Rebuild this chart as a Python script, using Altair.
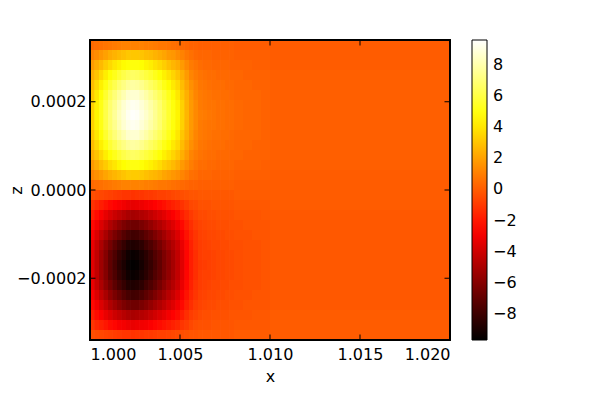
import altair as alt
import pandas as pd

# ---- data ----
x_edges = [1.0000, 1.00025, 1.0005, 1.00075, 1.0010, 1.00125, 1.0015, 1.00175, 1.0020,
           1.00225, 1.0025, 1.00275, 1.0030, 1.00325, 1.0035, 1.00375, 1.0040, 1.00425,
           1.0045, 1.00475, 1.0050, 1.00525, 1.0055, 1.00575, 1.0060, 1.00625, 1.0065,
           1.00675, 1.0070, 1.00725, 1.0075, 1.00775, 1.0080, 1.0085, 1.0090, 1.0095,
           1.0100, 1.0200]
z_edges = [0.00034, 0.0003173, 0.0002947, 0.000272, 0.0002493, 0.0002267, 0.000204,
           0.0001813, 0.0001587, 0.000136, 0.0001133, 0.0000907, 0.000068, 0.0000453,
           0.0000227, 0.0, -0.0000227, -0.0000453, -0.000068, -0.0000907, -0.0001133,
           -0.000136, -0.0001587, -0.0001813, -0.000204, -0.0002267, -0.0002493,
           -0.000272, -0.0002947, -0.0003173, -0.00034]

# field values, rows from the top edge (z = +0.00034) downwards, columns from x = 1.000 rightwards
values = [
    [0.4, 0.5, 0.6, 0.7, 0.8, 0.9, 1.0, 1.1, 1.1, 1.1, 1.1, 1.1, 1.0, 1.0, 0.9, 0.8, 0.8, 0.7, 0.6, 0.5, 0.4, 0.3, 0.2, 0.2, 0.1, 0.1, 0.1, 0.1, 0.1, 0.1, 0.1, 0.1, 0.0, 0.0, 0.0, 0.0, 0.0],
    [1.1, 1.4, 1.7, 2.0, 2.3, 2.5, 2.7, 2.9, 3.1, 3.1, 3.1, 3.0, 2.8, 2.7, 2.5, 2.3, 2.1, 1.8, 1.7, 1.4, 1.1, 0.8, 0.6, 0.4, 0.3, 0.3, 0.3, 0.2, 0.2, 0.2, 0.2, 0.2, 0.1, 0.1, 0.1, 0.1, 0.0],
    [1.8, 2.3, 2.7, 3.2, 3.6, 4.0, 4.3, 4.6, 4.8, 4.9, 4.9, 4.7, 4.4, 4.2, 3.9, 3.6, 3.3, 2.9, 2.6, 2.3, 1.8, 1.3, 0.9, 0.7, 0.5, 0.4, 0.4, 0.3, 0.3, 0.3, 0.3, 0.2, 0.2, 0.2, 0.1, 0.1, 0.0],
    [2.4, 3.0, 3.6, 4.2, 4.8, 5.2, 5.7, 6.1, 6.4, 6.6, 6.5, 6.2, 5.9, 5.6, 5.2, 4.8, 4.3, 3.9, 3.5, 3.0, 2.4, 1.8, 1.2, 0.9, 0.7, 0.6, 0.5, 0.5, 0.4, 0.4, 0.4, 0.3, 0.3, 0.2, 0.2, 0.2, 0.1],
    [2.8, 3.6, 4.3, 5.0, 5.7, 6.2, 6.8, 7.2, 7.6, 7.8, 7.7, 7.4, 7.0, 6.6, 6.2, 5.7, 5.1, 4.6, 4.1, 3.6, 2.8, 2.1, 1.5, 1.1, 0.8, 0.7, 0.6, 0.5, 0.5, 0.5, 0.4, 0.4, 0.3, 0.3, 0.2, 0.2, 0.1],
    [3.1, 4.0, 4.8, 5.6, 6.4, 7.0, 7.6, 8.1, 8.6, 8.7, 8.7, 8.3, 7.9, 7.4, 6.9, 6.4, 5.8, 5.2, 4.6, 4.0, 3.1, 2.4, 1.7, 1.2, 0.9, 0.8, 0.7, 0.6, 0.6, 0.5, 0.5, 0.4, 0.3, 0.3, 0.3, 0.2, 0.1],
    [3.4, 4.3, 5.1, 6.0, 6.8, 7.4, 8.1, 8.7, 9.1, 9.3, 9.2, 8.8, 8.4, 7.9, 7.4, 6.8, 6.1, 5.5, 4.9, 4.3, 3.4, 2.5, 1.8, 1.3, 0.9, 0.8, 0.7, 0.7, 0.6, 0.6, 0.5, 0.5, 0.4, 0.3, 0.3, 0.2, 0.1],
    [3.4, 4.4, 5.2, 6.1, 6.9, 7.6, 8.3, 8.8, 9.3, 9.5, 9.4, 9.0, 8.6, 8.1, 7.5, 6.9, 6.3, 5.6, 5.0, 4.4, 3.4, 2.6, 1.8, 1.3, 1.0, 0.9, 0.8, 0.7, 0.6, 0.6, 0.5, 0.5, 0.4, 0.3, 0.3, 0.2, 0.1],
    [3.4, 4.3, 5.1, 6.0, 6.8, 7.4, 8.1, 8.7, 9.1, 9.3, 9.2, 8.8, 8.4, 7.9, 7.4, 6.8, 6.1, 5.5, 4.9, 4.3, 3.4, 2.5, 1.8, 1.3, 0.9, 0.8, 0.7, 0.7, 0.6, 0.6, 0.5, 0.5, 0.4, 0.3, 0.3, 0.2, 0.1],
    [3.1, 4.0, 4.8, 5.6, 6.4, 7.0, 7.6, 8.1, 8.6, 8.7, 8.7, 8.3, 7.9, 7.4, 6.9, 6.4, 5.8, 5.2, 4.6, 4.0, 3.1, 2.4, 1.7, 1.2, 0.9, 0.8, 0.7, 0.6, 0.6, 0.5, 0.5, 0.4, 0.3, 0.3, 0.3, 0.2, 0.1],
    [2.8, 3.6, 4.3, 5.0, 5.7, 6.2, 6.8, 7.2, 7.6, 7.8, 7.7, 7.4, 7.0, 6.6, 6.2, 5.7, 5.1, 4.6, 4.1, 3.6, 2.8, 2.1, 1.5, 1.1, 0.8, 0.7, 0.6, 0.5, 0.5, 0.5, 0.4, 0.4, 0.3, 0.3, 0.2, 0.2, 0.1],
    [2.4, 3.0, 3.6, 4.2, 4.8, 5.2, 5.7, 6.1, 6.4, 6.6, 6.5, 6.2, 5.9, 5.6, 5.2, 4.8, 4.3, 3.9, 3.5, 3.0, 2.4, 1.8, 1.2, 0.9, 0.7, 0.6, 0.5, 0.5, 0.4, 0.4, 0.4, 0.3, 0.3, 0.2, 0.2, 0.2, 0.1],
    [1.8, 2.3, 2.8, 3.2, 3.7, 4.0, 4.4, 4.7, 4.9, 5.0, 5.0, 4.8, 4.5, 4.3, 4.0, 3.7, 3.3, 3.0, 2.7, 2.3, 1.8, 1.4, 1.0, 0.7, 0.5, 0.5, 0.4, 0.4, 0.3, 0.3, 0.3, 0.3, 0.2, 0.2, 0.2, 0.1, 0.1],
    [1.2, 1.5, 1.8, 2.1, 2.4, 2.6, 2.8, 3.0, 3.2, 3.2, 3.2, 3.1, 2.9, 2.7, 2.6, 2.4, 2.1, 1.9, 1.7, 1.5, 1.2, 0.9, 0.6, 0.5, 0.3, 0.3, 0.3, 0.2, 0.2, 0.2, 0.2, 0.2, 0.1, 0.1, 0.1, 0.1, 0.0],
    [0.4, 0.5, 0.6, 0.7, 0.8, 0.9, 1.0, 1.1, 1.1, 1.1, 1.1, 1.1, 1.0, 1.0, 0.9, 0.8, 0.8, 0.7, 0.6, 0.5, 0.4, 0.3, 0.2, 0.2, 0.1, 0.1, 0.1, 0.1, 0.1, 0.1, 0.1, 0.1, 0.0, 0.0, 0.0, 0.0, 0.0],
    [-0.4, -0.5, -0.6, -0.7, -0.8, -0.9, -1.0, -1.1, -1.1, -1.2, -1.1, -1.1, -1.0, -1.0, -0.9, -0.8, -0.8, -0.7, -0.6, -0.5, -0.4, -0.3, -0.2, -0.2, -0.1, -0.1, -0.1, -0.1, -0.1, -0.1, -0.1, -0.1, 0.0, 0.0, 0.0, 0.0, 0.0],
    [-1.2, -1.5, -1.8, -2.1, -2.4, -2.6, -2.8, -3.0, -3.2, -3.3, -3.2, -3.1, -2.9, -2.8, -2.6, -2.4, -2.2, -1.9, -1.7, -1.5, -1.2, -0.9, -0.6, -0.5, -0.3, -0.3, -0.3, -0.2, -0.2, -0.2, -0.2, -0.2, -0.1, -0.1, -0.1, -0.1, 0.0],
    [-1.8, -2.3, -2.8, -3.3, -3.7, -4.1, -4.4, -4.7, -5.0, -5.1, -5.0, -4.8, -4.6, -4.3, -4.0, -3.7, -3.4, -3.0, -2.7, -2.3, -1.8, -1.4, -1.0, -0.7, -0.5, -0.5, -0.4, -0.4, -0.3, -0.3, -0.3, -0.3, -0.2, -0.2, -0.2, -0.1, -0.1],
    [-2.4, -3.0, -3.6, -4.2, -4.8, -5.3, -5.8, -6.2, -6.5, -6.6, -6.6, -6.3, -6.0, -5.6, -5.2, -4.8, -4.4, -3.9, -3.5, -3.0, -2.4, -1.8, -1.3, -0.9, -0.7, -0.6, -0.5, -0.5, -0.4, -0.4, -0.4, -0.3, -0.3, -0.2, -0.2, -0.2, -0.1],
    [-2.8, -3.6, -4.3, -5.0, -5.7, -6.3, -6.8, -7.3, -7.7, -7.9, -7.8, -7.5, -7.1, -6.7, -6.2, -5.7, -5.2, -4.6, -4.2, -3.6, -2.8, -2.1, -1.5, -1.1, -0.8, -0.7, -0.6, -0.6, -0.5, -0.5, -0.4, -0.4, -0.3, -0.3, -0.2, -0.2, -0.1],
    [-3.2, -4.1, -4.9, -5.7, -6.4, -7.1, -7.7, -8.2, -8.7, -8.8, -8.7, -8.4, -7.9, -7.5, -7.0, -6.4, -5.8, -5.2, -4.7, -4.1, -3.2, -2.4, -1.7, -1.2, -0.9, -0.8, -0.7, -0.6, -0.6, -0.5, -0.5, -0.4, -0.4, -0.3, -0.3, -0.2, -0.1],
    [-3.4, -4.3, -5.2, -6.0, -6.9, -7.5, -8.2, -8.7, -9.2, -9.4, -9.3, -8.9, -8.5, -8.0, -7.4, -6.9, -6.2, -5.6, -5.0, -4.3, -3.4, -2.5, -1.8, -1.3, -0.9, -0.8, -0.8, -0.7, -0.6, -0.6, -0.5, -0.5, -0.4, -0.3, -0.3, -0.2, -0.1],
    [-3.5, -4.4, -5.3, -6.1, -7.0, -7.7, -8.4, -8.9, -9.4, -9.6, -9.5, -9.1, -8.6, -8.2, -7.6, -7.0, -6.3, -5.7, -5.1, -4.4, -3.5, -2.6, -1.8, -1.3, -1.0, -0.9, -0.8, -0.7, -0.6, -0.6, -0.5, -0.5, -0.4, -0.3, -0.3, -0.2, -0.1],
    [-3.4, -4.3, -5.2, -6.0, -6.9, -7.5, -8.2, -8.7, -9.2, -9.4, -9.3, -8.9, -8.5, -8.0, -7.4, -6.9, -6.2, -5.6, -5.0, -4.3, -3.4, -2.5, -1.8, -1.3, -0.9, -0.8, -0.8, -0.7, -0.6, -0.6, -0.5, -0.5, -0.4, -0.3, -0.3, -0.2, -0.1],
    [-3.2, -4.1, -4.9, -5.7, -6.4, -7.1, -7.7, -8.2, -8.7, -8.8, -8.7, -8.4, -7.9, -7.5, -7.0, -6.4, -5.8, -5.2, -4.7, -4.1, -3.2, -2.4, -1.7, -1.2, -0.9, -0.8, -0.7, -0.6, -0.6, -0.5, -0.5, -0.4, -0.4, -0.3, -0.3, -0.2, -0.1],
    [-2.8, -3.6, -4.3, -5.0, -5.7, -6.3, -6.8, -7.3, -7.7, -7.9, -7.8, -7.5, -7.1, -6.7, -6.2, -5.7, -5.2, -4.6, -4.2, -3.6, -2.8, -2.1, -1.5, -1.1, -0.8, -0.7, -0.6, -0.6, -0.5, -0.5, -0.4, -0.4, -0.3, -0.3, -0.2, -0.2, -0.1],
    [-2.4, -3.0, -3.6, -4.2, -4.8, -5.3, -5.8, -6.2, -6.5, -6.6, -6.6, -6.3, -6.0, -5.6, -5.2, -4.8, -4.4, -3.9, -3.5, -3.0, -2.4, -1.8, -1.3, -0.9, -0.7, -0.6, -0.5, -0.5, -0.4, -0.4, -0.4, -0.3, -0.3, -0.2, -0.2, -0.2, -0.1],
    [-1.8, -2.3, -2.7, -3.2, -3.6, -4.0, -4.3, -4.6, -4.9, -5.0, -4.9, -4.7, -4.5, -4.2, -3.9, -3.6, -3.3, -2.9, -2.6, -2.3, -1.8, -1.3, -0.9, -0.7, -0.5, -0.4, -0.4, -0.3, -0.3, -0.3, -0.3, -0.2, -0.2, -0.2, -0.1, -0.1, 0.0],
    [-1.1, -1.5, -1.7, -2.0, -2.3, -2.5, -2.8, -2.9, -3.1, -3.2, -3.1, -3.0, -2.9, -2.7, -2.5, -2.3, -2.1, -1.9, -1.7, -1.5, -1.1, -0.9, -0.6, -0.4, -0.3, -0.3, -0.3, -0.2, -0.2, -0.2, -0.2, -0.2, -0.1, -0.1, -0.1, -0.1, 0.0],
    [-0.4, -0.5, -0.6, -0.7, -0.8, -0.9, -1.0, -1.1, -1.1, -1.2, -1.1, -1.1, -1.0, -1.0, -0.9, -0.8, -0.8, -0.7, -0.6, -0.5, -0.4, -0.3, -0.2, -0.2, -0.1, -0.1, -0.1, -0.1, -0.1, -0.1, -0.1, -0.1, 0.0, 0.0, 0.0, 0.0, 0.0],
]

x_ticks = [1.000, 1.005, 1.010, 1.015, 1.020]
z_ticks = [-0.0002, 0.0, 0.0002]
cbar_ticks = [-8, -6, -4, -2, 0, 2, 4, 6, 8]
x_domain = [1.000, 1.020]
z_domain = [-0.00034, 0.00034]
c_min, c_max = -9.65, 9.58

# ---- build table ----
rows = []
for i in range(len(z_edges) - 1):
    for j in range(len(x_edges) - 1):
        rows.append({"x": x_edges[j], "x_end": x_edges[j + 1],
                     "z": z_edges[i + 1], "z_end": z_edges[i],
                     "v": values[i][j]})
df = pd.DataFrame(rows)
xt = pd.DataFrame({"x": x_ticks})
zt = pd.DataFrame({"z": z_ticks})

FONT = "DejaVu Sans"
W, H = 360, 300
TL = 5.5  # inward tick length

# matplotlib "hot" colormap breakpoints
span = c_max - c_min
hot_domain = [c_min, c_min + 0.365079 * span, c_min + 0.746032 * span, c_max]
hot_range = ["#000000", "#ff0000", "#ffff00", "#ffffff"]
hot_scale = alt.Scale(domain=hot_domain, range=hot_range, interpolate="rgb")

x_scale = alt.Scale(domain=x_domain, nice=False, zero=False)
z_scale = alt.Scale(domain=z_domain, nice=False, zero=False)
x_axis = alt.Axis(values=x_ticks, format=".3f", ticks=False, domain=False, grid=False,
                  labelPadding=6, labelFontSize=16, labelFont=FONT, labelColor="black",
                  title="x", titleFontSize=16, titleFont=FONT, titleFontWeight="normal",
                  titleColor="black", titleY=41, titleBaseline="alphabetic")
z_axis = alt.Axis(values=z_ticks, format=".4f", ticks=False, domain=False, grid=False,
                  labelPadding=4, labelFontSize=16, labelFont=FONT, labelColor="black",
                  title="z", titleFontSize=16, titleFont=FONT, titleFontWeight="normal",
                  titleColor="black", titleX=-66, titleY=150, titleAngle=270,
                  titleBaseline="bottom", titleAlign="center")

cbar_legend = alt.Legend(
    title=None, orient="none", legendX=382, legendY=0, direction="vertical",
    gradientLength=H, gradientThickness=15, gradientStrokeColor="black",
    gradientStrokeWidth=1, values=cbar_ticks, format="d",
    labelFontSize=16, labelFont=FONT, labelColor="black", labelOffset=6,
    labelOverlap=False, padding=0,
)

heat = alt.Chart(df).mark_rect(strokeWidth=0).encode(
    x=alt.X("x:Q", scale=x_scale, axis=x_axis),
    x2="x_end:Q",
    y=alt.Y("z:Q", scale=z_scale, axis=z_axis),
    y2="z_end:Q",
    color=alt.Color("v:Q", scale=hot_scale, legend=cbar_legend),
)

xtick_bottom = alt.Chart(xt).mark_rule(color="black", strokeWidth=1).encode(
    x=alt.X("x:Q", scale=x_scale, axis=x_axis), y=alt.value(H), y2=alt.value(H - TL))
xtick_top = alt.Chart(xt).mark_rule(color="black", strokeWidth=1).encode(
    x=alt.X("x:Q", scale=x_scale, axis=x_axis), y=alt.value(0), y2=alt.value(TL))
ztick_left = alt.Chart(zt).mark_rule(color="black", strokeWidth=1).encode(
    y=alt.Y("z:Q", scale=z_scale, axis=z_axis), x=alt.value(0), x2=alt.value(TL))
ztick_right = alt.Chart(zt).mark_rule(color="black", strokeWidth=1).encode(
    y=alt.Y("z:Q", scale=z_scale, axis=z_axis), x=alt.value(W), x2=alt.value(W - TL))
frame = alt.Chart(xt).mark_rect(filled=False, stroke="black", strokeWidth=1.3).encode(
    x=alt.value(0), x2=alt.value(W), y=alt.value(0), y2=alt.value(H))

# the heat layer is painted three times so that anti-aliased seams between cells close up
chart = alt.layer(heat, heat, heat, xtick_bottom, xtick_top, ztick_left, ztick_right, frame).properties(
    width=W, height=H,
    autosize=alt.AutoSizeParams(type="none"),
    padding={"left": 82, "top": 32, "right": 142, "bottom": 52},
    background="white",
).configure_view(stroke=None)

chart.save("out.html", embed_options={"renderer": "svg", "actions": False})
